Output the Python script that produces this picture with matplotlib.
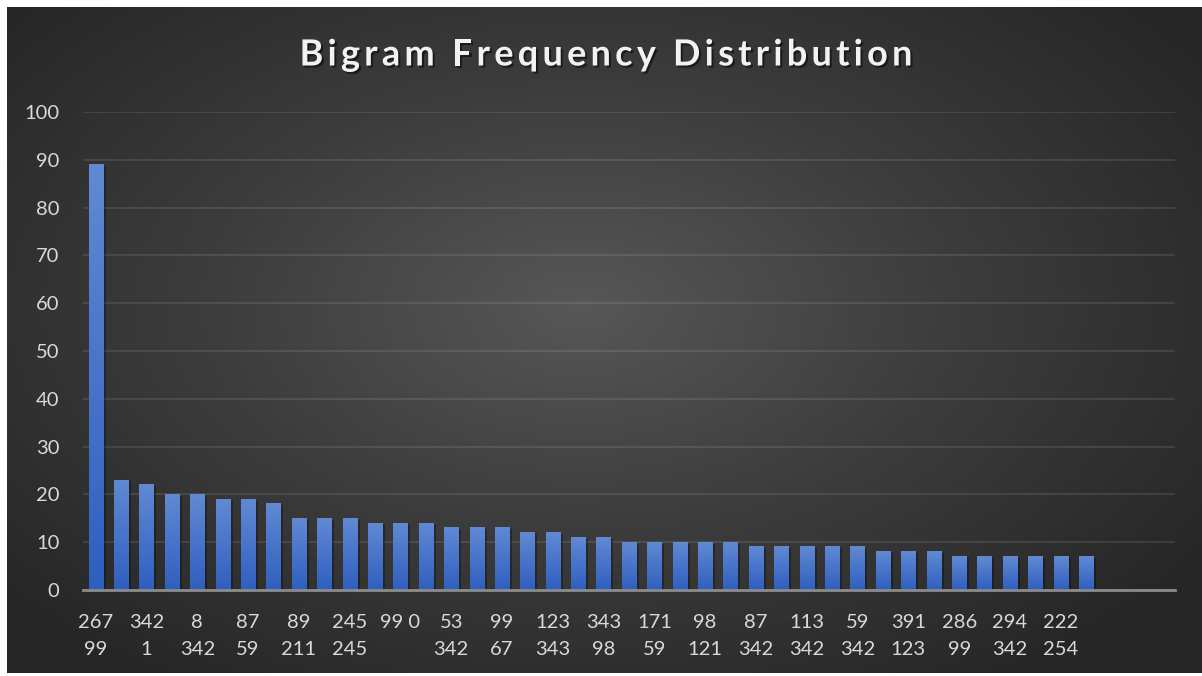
import numpy as np
import matplotlib.pyplot as plt
import matplotlib.patheffects as pe
from matplotlib.colors import LinearSegmentedColormap

# Excel only prints every other category label
shown_labels = ['267\n99', '342\n1', '8\n342', '87\n59', '89\n211', '245\n245', '99 0',
                '53\n342', '99\n67', '123\n343', '343\n98', '171\n59', '98\n121', '87\n342',
                '113\n342', '59\n342', '391\n123', '286\n99', '294\n342', '222\n254']
counts = [89, 23, 22, 20, 20, 19, 19, 18, 15, 15, 15, 14, 14, 14, 13, 13, 13, 12, 12, 11,
          11, 10, 10, 10, 10, 10, 9, 9, 9, 9, 9, 8, 8, 8, 7, 7, 7, 7, 7, 7]
y_ticks = [0, 10, 20, 30, 40, 50, 60, 70, 80, 90, 100]
n_slots = 43  # category range in the sheet has 3 empty rows at the end
title = 'Bigram Frequency Distribution'

W, H = 1202, 676
plt.rcParams['font.family'] = ['Lato', 'DejaVu Sans']

fig = plt.figure(figsize=(W / 100, H / 100), dpi=100, facecolor='white')

# dark chart area with a soft radial gradient
bg = fig.add_axes([7 / W, 3 / H, 1195 / W, 666 / H], zorder=0)
gx, gy = np.meshgrid(np.linspace(0, 1, 400), np.linspace(0, 1, 240))
d = np.sqrt(((gx - 0.48) / 0.75) ** 2 + ((gy - 0.45) / 0.8) ** 2)
d = np.clip(d / 0.85, 0, 1)
bg_cmap = LinearSegmentedColormap.from_list('bg', ['#575757', '#3c3c3c', '#262626'])
bg.imshow(d, cmap=bg_cmap, aspect='auto', extent=[0, 1, 0, 1], vmin=0, vmax=1)
bg.axis('off')

ax = fig.add_axes([83 / W, 86 / H, 1092 / W, 478 / H], zorder=1)
ax.patch.set_alpha(0)

x = np.arange(len(counts))
bars = ax.bar(x, counts, width=0.56, color='#4672c8', zorder=2,
              path_effects=[pe.SimplePatchShadow(offset=(2, -1), shadow_rgbFace='black', alpha=0.3),
                            pe.Normal()])

# vertical gradient fill on each bar
bar_cmap = LinearSegmentedColormap.from_list('bar', ['#2f5fbf', '#6189d3'])
grad = np.linspace(0, 1, 100).reshape(-1, 1)
for b in bars:
    ax.imshow(grad, cmap=bar_cmap, origin='lower', aspect='auto', zorder=2.2,
              extent=[b.get_x(), b.get_x() + b.get_width(), 0, b.get_height()])

ax.set_xlim(-0.5, n_slots - 0.5)
ax.set_ylim(0, 100)
ax.set_yticks(y_ticks)
tick_pos = np.arange(0, n_slots, 2)
ax.set_xticks(tick_pos)
ax.set_xticklabels(shown_labels + [''] * (len(tick_pos) - len(shown_labels)), linespacing=1.75)

ax.tick_params(axis='both', length=0, colors='#d9d9d9', labelsize=14.5)
ax.tick_params(axis='x', pad=17)
ax.tick_params(axis='y', pad=17)

ax.yaxis.grid(True, color='#ffffff', alpha=0.1, lw=1.4)
ax.set_axisbelow(True)
for s in ['top', 'right', 'left']:
    ax.spines[s].set_visible(False)
ax.spines['bottom'].set_color('#8c8c8c')
ax.spines['bottom'].set_linewidth(2)
ax.spines['bottom'].set_zorder(3)

# title with Excel-like letter spacing: place characters one by one
title_kw = dict(fontsize=26, fontweight='bold', color='#f2f2f2', va='center', ha='left',
                path_effects=[pe.withSimplePatchShadow(offset=(1.5, -1.5),
                                                       shadow_rgbFace='black', alpha=0.5)])
renderer = fig.canvas.get_renderer()
probe = fig.text(0, 0, title, **title_kw)
full_w = probe.get_window_extent(renderer).width
probe.remove()
spacing = 4.2  # px between letters
start = 606 - (full_w + spacing * (len(title) - 1)) / 2
for i, ch in enumerate(title):
    if i:
        p = fig.text(0, 0, title[:i] + 'x', **title_kw)
        q = fig.text(0, 0, 'x', **title_kw)
        adv = p.get_window_extent(renderer).width - q.get_window_extent(renderer).width
        p.remove()
        q.remove()
    else:
        adv = 0
    fig.text((start + adv + i * spacing) / W, 1 - 55 / H, ch, **title_kw)

fig.savefig('out.png', dpi=100, facecolor='white')
